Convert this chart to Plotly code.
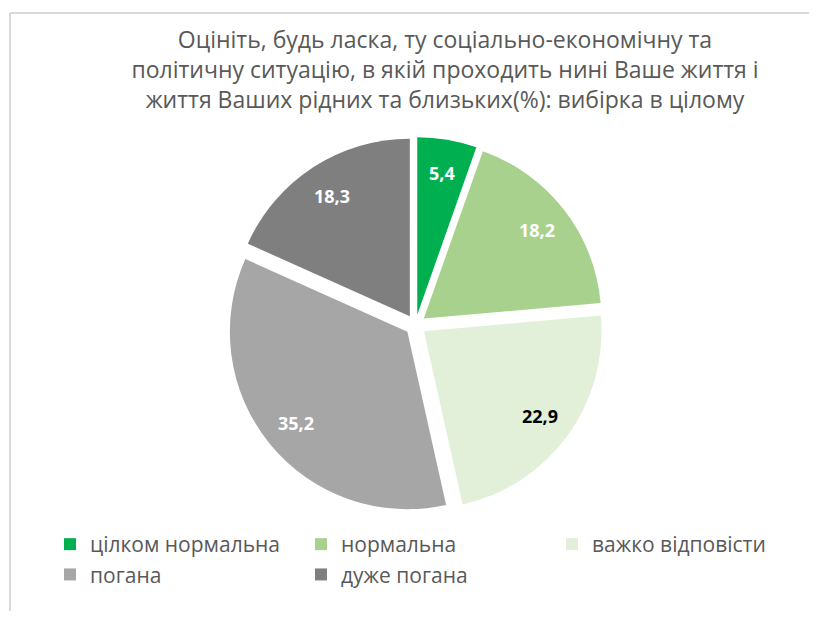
import math
import plotly.graph_objects as go

categories = ["цілком нормальна", "нормальна", "важко відповісти", "погана", "дуже погана"]
values = [5.4, 18.2, 22.9, 35.2, 18.3]
value_labels = ["5,4", "18,2", "22,9", "35,2", "18,3"]
colors = ["#00B050", "#A9D18E", "#E2F0D9", "#A6A6A6", "#7F7F7F"]
label_colors = ["white", "white", "black", "white", "white"]

# The page body has an 8px margin; size the figure so the page needs no scrollbars.
OFF = 8
W, H = 817 - 2 * OFF, 619 - 2 * OFF
PULL = 0.059
# pie domain in screen pixels
DX0, DX1, DY0, DY1 = 227.5, 603.5, 137, 513


def px_x(x):
    return (x - OFF) / W


def px_y(y):
    return 1 - (y - OFF) / H


fig = go.Figure(go.Pie(
    labels=categories,
    values=values,
    textinfo="none",
    marker=dict(colors=colors, line=dict(width=0)),
    sort=False,
    direction="clockwise",
    rotation=0,
    pull=[PULL] * len(values),
    domain=dict(x=[px_x(DX0), px_x(DX1)], y=[px_y(DY1), px_y(DY0)]),
    hoverinfo="label+value",
))

# data labels placed along each slice's bisector (Excel-style)
cx = (DX0 + DX1) / 2
cy = (DY0 + DY1) / 2
r = min(DX1 - DX0, DY1 - DY0) / (2 + 2 * PULL)
total = sum(values)
annotations = []
cum = 0.0
for v, t, c in zip(values, value_labels, label_colors):
    mid = (cum + v / 2) / total * 2 * math.pi
    cum += v
    d = r * (0.81 + PULL)
    x = cx + d * math.sin(mid)
    y = cy - d * math.cos(mid)
    annotations.append(dict(
        x=px_x(x), y=px_y(y), xref="paper", yref="paper",
        text=t, showarrow=False,
        font=dict(family="Open Sans", size=18, color=c, weight="bold"),
        xanchor="center", yanchor="middle",
    ))

fig.update_layout(
    width=W, height=H,
    margin=dict(l=0, r=0, t=0, b=0),
    paper_bgcolor="white",
    font=dict(family="Open Sans", color="#595959"),
    title=dict(
        text="Оцініть, будь ласка, ту соціально-економічну та<br>політичну ситуацію, в якій проходить нині Ваше життя і<br>життя Ваших рідних та близьких(%): вибірка в цілому",
        x=px_x(445), xanchor="center",
        y=px_y(48), yanchor="top",
        font=dict(size=23, color="#595959", family="Open Sans"),
    ),
    legend=dict(
        orientation="h",
        x=px_x(50), xanchor="left",
        y=px_y(524), yanchor="top",
        entrywidth=206, entrywidthmode="pixels",
        font=dict(size=21, color="#595959"),
        traceorder="normal",
    ),
    annotations=annotations,
    shapes=[
        dict(type="line", xref="paper", yref="paper",
             x0=px_x(10), x1=px_x(10), y0=px_y(13), y1=0,
             line=dict(color="#D9D9D9", width=2)),
        dict(type="line", xref="paper", yref="paper",
             x0=px_x(10), x1=1, y0=px_y(13), y1=px_y(13),
             line=dict(color="#D9D9D9", width=2)),
    ],
)

fig.write_html("out.html")
